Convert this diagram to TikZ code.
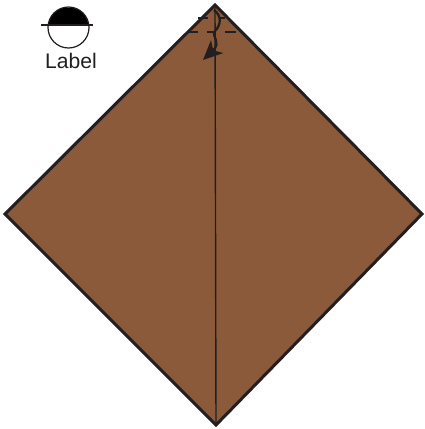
\documentclass[tikz,border=0pt]{standalone}
\usepackage{xcolor}
\usepackage{fontspec}
\setmainfont{Liberation Sans}
\usetikzlibrary{arrows.meta}
\definecolor{paperbrown}{HTML}{8A5A3A}
\definecolor{inkdark}{HTML}{231F20}
\tikzset{outline/.style = {draw=inkdark, line width=1.7pt, line join=miter},
         crease/.style = {draw=inkdark, line width=0.8pt},
         foldline/.style = {draw=inkdark, line width=1.2pt},
         foldarrow/.style = {draw=inkdark, line width=1.3pt,
                             -{Stealth[length=11pt, width=10pt, inset=3pt]}}}

\begin{document}
\begin{tikzpicture}[x=0.02cm, y=-0.02cm]
  \useasboundingbox (0,0) rectangle (424,429);
  % square sheet
  \coordinate (top)    at (215,5);
  \coordinate (left)   at (5,214);
  \coordinate (bottom) at (216,425);
  \coordinate (right)  at (422,214);
  \fill[paperbrown] (top) -- (right) -- (bottom) -- (left) -- cycle;
  \draw[crease]  (top) -- (bottom);
  \draw[outline] (top) -- (right) -- (bottom) -- (left) -- cycle;
  % fold marks
  \draw[foldline] (198,18) -- (208,18);
  \draw[foldline] (220,18) -- (225,18);
  \draw[foldline] (187,32) -- (198,32);
  \draw[foldline] (207,32) -- (215,32);
  \draw[foldline] (225,32) -- (236,32);
  \draw[foldarrow] (214,10) .. controls (222,16) and (221,25) .. (215,31)
                   .. controls (211,37) and (222,42) .. (203,60);
  % legend
  \coordinate (mark) at (68.5,27.5);
  \draw[inkdark, line width=0.7pt, fill=white] (mark) circle (20.5);
  \fill[black] (48.6,25) arc[start angle=187, end angle=353, radius=20] -- cycle;
  \draw[inkdark, line width=0.7pt] (41,25) -- (93,25);
  \node[font=\fontsize{12}{14}\selectfont, text=inkdark, inner sep=0pt] (marklabel) at (71,61) {Label};
\end{tikzpicture}
\end{document}
